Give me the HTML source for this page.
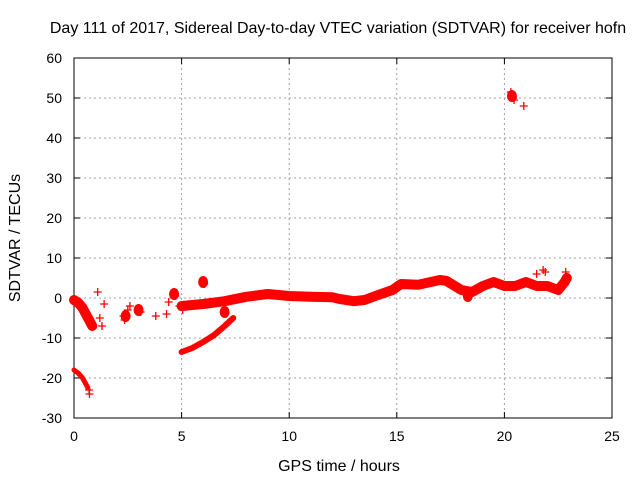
<!DOCTYPE html>
<html><head><meta charset="utf-8"><style>
body{margin:0;background:#fff;}
svg text{font-family:"Liberation Sans",sans-serif;fill:#000;}
</style></head><body>
<svg id="c" width="640" height="480" xmlns="http://www.w3.org/2000/svg"></svg>
<script>
const xTicks=[0,5,10,15,20,25];
const yTicks=[-30,-20,-10,0,10,20,30,40,50,60];
// band series (hours, TECU)
const bandEarlyX=[0,0.2,0.4,0.6,0.75,0.85];
const bandEarlyY=[-0.5,-1.2,-2.5,-4.5,-6,-7];
const bandLowX=[0,0.2,0.4,0.55,0.65];
const bandLowY=[-18,-18.8,-20,-21.5,-22.5];
const bandMainX=[5,6,7,8,9,10,11,12,12.3,13,13.5,14,14.8,15.2,16,17,17.3,18,18.5,19,19.5,20,20.5,21,21.5,22,22.5,22.8,22.9];
const bandMainY=[-2,-1.5,-0.8,0.3,1,0.5,0.3,0.2,-0.2,-0.8,-0.5,0.5,2,3.5,3.3,4.5,4.3,2,1.5,3,4,3,3,4,3,3,2,4,5];
const bandBranchX=[5,5.5,6,6.5,7,7.4];
const bandBranchY=[-13.5,-12.5,-11,-9.3,-7,-5];
// scattered points
const ptsX=[0.05,0.3,0.6,0.7,0.72,1.1,1.4,1.3,1.2,2.3,2.35,2.5,2.6,3,3.1,3.8,4.3,4.4,4.6,4.7,4.9,5.05,6,6.05,20.3,20.35,20.4,20.45,20.9,21.5,21.8,21.9,22.85];
const ptsY=[-1,-2,-5,-23,-24,1.5,-1.5,-7,-5,-4.5,-5.5,-3,-2,-2.5,-3.5,-4.5,-4,-1,1,0.5,-2,-3,4,3.5,51.5,50.5,50,49.5,48,6,7,6.5,6.5];
// clusters (blobs)
const blobX=[2.4,3.0,4.65,6.0,7.0,20.35,18.3];
const blobY=[-4.5,-3,1,4,-3.5,50.5,0.5];
const svg=document.getElementById('c');
const NS='http://www.w3.org/2000/svg';
const X0=74,X1=612,Y0=418,Y1=58;
function sx(v){return X0+(v-0)/(25-0)*(X1-X0);}
function sy(v){return Y0-(v+30)/(60+30)*(Y0-Y1);}
function mk(t,a){const e=document.createElementNS(NS,t);for(const k in a)e.setAttribute(k,a[k]);svg.appendChild(e);return e;}
xTicks.forEach((t,i)=>{
 if(i>0&&i<xTicks.length-1){const g=mk('line',{x1:sx(t),x2:sx(t),y1:Y1,y2:Y0,stroke:'#a0a0a0','stroke-dasharray':'2,3'});
 
 }
 const tk=mk('line',{x1:sx(t),x2:sx(t),y1:Y0,y2:Y0-6,stroke:'#000'});
 
 
 mk('line',{x1:sx(t),x2:sx(t),y1:Y1,y2:Y1+6,stroke:'#000'});
 const l=mk('text',{x:sx(t),y:Y0+23,'text-anchor':'middle',style:'font-size:14px'});l.textContent=t;
 
 
});
yTicks.forEach((t,i)=>{
 if(i>0&&i<yTicks.length-1){const g=mk('line',{x1:X0,x2:X1,y1:sy(t),y2:sy(t),stroke:'#a0a0a0','stroke-dasharray':'2,3'});
 
 }
 const tk=mk('line',{x1:X0,x2:X0+6,y1:sy(t),y2:sy(t),stroke:'#000'});
 
 
 mk('line',{x1:X1,x2:X1-6,y1:sy(t),y2:sy(t),stroke:'#000'});
 const l=mk('text',{x:X0-12,y:sy(t)+5,'text-anchor':'end',style:'font-size:14px'});l.textContent=t;
 
 
});
const fr=mk('rect',{x:X0,y:Y1,width:X1-X0,height:Y0-Y1,fill:'none',stroke:'#000'});


function band(xs,ys,w,name){
 const p=mk('polyline',{points:xs.map((x,i)=>sx(x)+','+sy(ys[i])).join(' '),fill:'none',stroke:'#f00','stroke-width':w,'stroke-linejoin':'round','stroke-linecap':'round'});
 
 
}
band(bandEarlyX,bandEarlyY,10,'series-early-band');
band(bandLowX,bandLowY,5,'series-low-band');
band(bandMainX,bandMainY,10,'series-main-band');
band(bandBranchX,bandBranchY,6,'series-branch-band');
blobX.forEach((x,i)=>{
 const b=mk('ellipse',{cx:sx(x),cy:sy(blobY[i]),rx:5,ry:6,fill:'#f00'});
 
 
});
ptsX.forEach((x,i)=>{
 const cx=sx(x),cy=sy(ptsY[i]);
 const p=mk('path',{d:`M${cx-4},${cy}H${cx+4}M${cx},${cy-4}V${cy+4}`,stroke:'#f00','stroke-width':1.3});
 
 
});
const tt=mk('text',{x:338,y:33,'text-anchor':'middle',style:'font-size:16px'});
tt.textContent='Day 111 of 2017, Sidereal Day-to-day VTEC variation (SDTVAR) for receiver hofn';


const xt=mk('text',{x:339,y:471,'text-anchor':'middle',style:'font-size:16px'});
xt.textContent='GPS time / hours';


const yt=mk('text',{x:20,y:238,'text-anchor':'middle',style:'font-size:16px',transform:'rotate(-90 20 238)'});
yt.textContent='SDTVAR / TECUs';


</script>
</body></html>
